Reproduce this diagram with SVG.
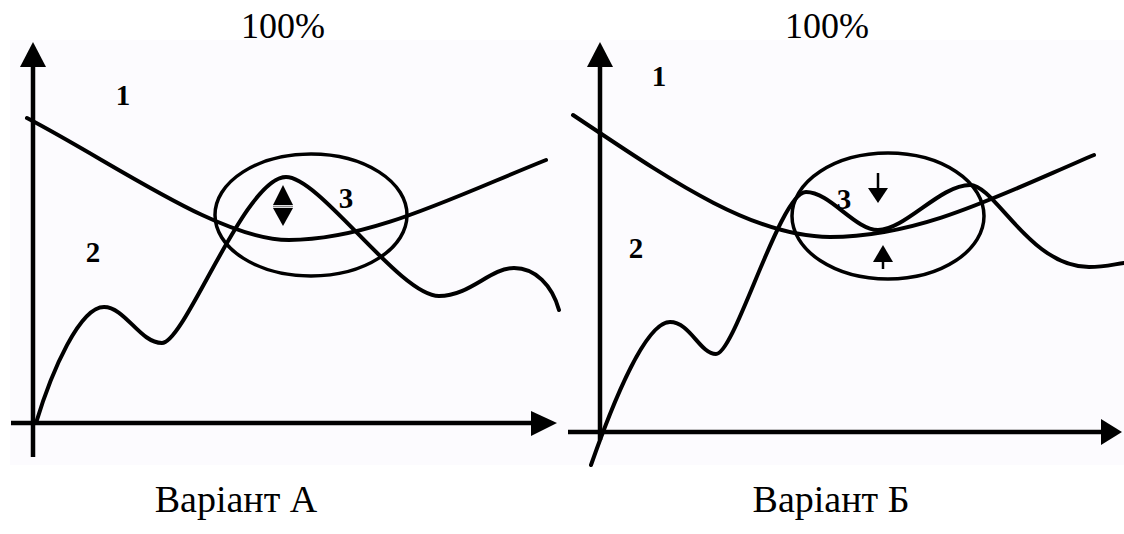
<svg xmlns="http://www.w3.org/2000/svg" width="1124" height="534" viewBox="0 0 1124 534">
<style>
.ax{stroke:#000;stroke-width:4.5;fill:none}
.cv{stroke:#000;stroke-width:4;fill:none;stroke-linecap:round}
.el{stroke:#000;stroke-width:3.5;fill:none}
.hd{fill:#000}
.t{font-family:"Liberation Serif",serif;font-size:36px;fill:#000;text-anchor:middle}
.b{font-family:"Liberation Serif",serif;font-size:38px;fill:#000;text-anchor:middle}
.n{font-family:"Liberation Serif",serif;font-size:29px;font-weight:bold;fill:#000;text-anchor:middle}
</style>
<rect width="1124" height="534" fill="#fff"/>
<rect x="10" y="40" width="1114" height="425" fill="#fcfbfe"/>
<g id="panelA">
<text class="t" x="283" y="38">100%</text>
<g id="axesA">
<line class="ax" x1="33" y1="62" x2="33" y2="457"/>
<polygon class="hd" points="33,42 20,67 46,67"/>
<line class="ax" x1="11" y1="423" x2="535" y2="423"/>
<polygon class="hd" points="557,423 531,411 531,436"/>
</g>
<path id="curve1A" class="cv" d="M27,118 C117,165 220,240 289,240 C370,240 456,196 546,160"/>
<path id="curve2A" class="cv" d="M36,423 C52,370 80,307 104,307 C125,307 140,343 162,343 C185,343 245,177 286,177 C320,177 400,296 439,296 C470,296 490,268 514,268 C535,268 552,285 559,310"/>
<ellipse id="ellipseA" class="el" cx="311" cy="215" rx="96" ry="61"/>
<g id="dblArrowA">
<polygon class="hd" points="283,185 273,205 293,205"/>
<line x1="273" y1="206.5" x2="293" y2="206.5" stroke="#888" stroke-width="1.5"/>
<polygon class="hd" points="273,208 293,208 283,226"/>
</g>
<text class="n" x="123" y="105">1</text>
<text class="n" x="93" y="262">2</text>
<text class="n" x="346" y="208">3</text>
<text class="b" x="236" y="512">Варіант А</text>
</g>
<g id="panelB">
<text class="t" x="827" y="38">100%</text>
<g id="axesB">
<line class="ax" x1="600" y1="62" x2="600" y2="440"/>
<polygon class="hd" points="600,42 587,67 613,67"/>
<line class="ax" x1="568" y1="432" x2="1102" y2="432"/>
<polygon class="hd" points="1122,432 1101,419 1101,445"/>
</g>
<path id="curve1B" class="cv" d="M573,115 C663,175 750,237 830,237 C920,237 1000,195 1094,155"/>
<path id="curve2B" class="cv" d="M591,465 C612,405 645,322 670,322 C690,322 700,354 716,354 C735,354 780,192 806,192 C830,192 855,230 878,230 C905,230 940,185 970,185 C995,185 1030,267 1089,267 C1105,267 1115,264 1124,263"/>
<ellipse id="ellipseB" class="el" cx="888" cy="216" rx="96" ry="63"/>
<g id="arrowsB">
<line x1="878" y1="173" x2="878" y2="190" stroke="#000" stroke-width="2.5"/>
<polygon class="hd" points="868,188 888,188 878,203"/>
<polygon class="hd" points="883,245 873,262 893,262"/>
<line x1="883" y1="260" x2="883" y2="269" stroke="#000" stroke-width="2.5"/>
</g>
<text class="n" x="659" y="86">1</text>
<text class="n" x="636" y="258">2</text>
<text class="n" x="844" y="209">3</text>
<text class="b" x="831" y="512">Варіант Б</text>
</g>
</svg>
